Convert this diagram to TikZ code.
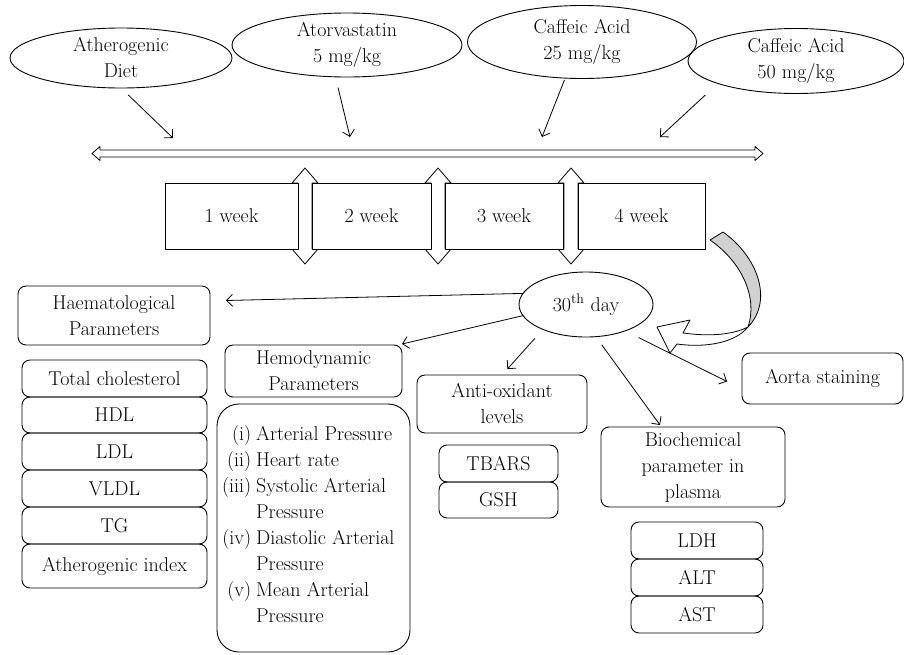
\documentclass[tikz,border=0pt]{standalone}
\usetikzlibrary{shapes.geometric,arrows.meta}

\begin{document}
\begin{tikzpicture}[x=1pt,y=-1pt,line width=0.9pt,line join=round,
  every node/.style={inner sep=0pt,outer sep=0pt,font=\fontsize{20pt}{26pt}\selectfont},
  oval/.style={draw,ellipse},
  wbox/.style={draw,fill=white},
  rbox/.style={draw,rounded corners=8pt,align=center},
  arr/.style={-{Straight Barb[length=6pt,width=12pt]},line width=0.8pt}]
  \path[use as bounding box] (0,0) rectangle (904,654);  % source canvas 904x654 px, y downwards
  % ---- treatment ellipses, top row (centre / size in source px) ----
  \node[oval,minimum width=222,minimum height=60] (diet)   at (121,58) {};
  \node[oval,minimum width=230,minimum height=64] (atorva) at (347,45) {};
  \node[oval,minimum width=229,minimum height=73] (caff25) at (582,42) {};
  \node[oval,minimum width=216,minimum height=65] (caff50) at (796,61) {};
  \node[align=center] (diet-t)   at (diet)   {Atherogenic\\Diet};
  \node[align=center] (atorva-t) at (atorva) {Atorvastatin\\5 mg/kg};
  \node[align=center] (caff25-t) at (caff25) {Caffeic Acid\\25 mg/kg};
  \node[align=center] (caff50-t) at (caff50) {Caffeic Acid\\50 mg/kg};
  % ---- arrow ends just above the time line ----
  \coordinate (t-diet)   at (173,138);
  \coordinate (t-atorva) at (350,137);
  \coordinate (t-caff25) at (542,137);
  \coordinate (t-caff50) at (660,137);
  \draw[arr,shorten <=10pt] (diet.south) -- (t-diet);
  \draw[arr,shorten <=11pt] (atorva.250) -- (t-atorva);
  \draw[arr,shorten <=2pt]  (caff25.245) -- (t-caff25);
  \draw[arr,shorten <=17pt] (caff50.196) -- (t-caff50);
  % ---- time line: open double-headed arrow, px 92..763 at y 153.5 ----
  \draw[fill=white,line width=0.8pt] (92,153.5) -- (100,146.5) -- (100,150) -- (755,150) -- (755,146.5)
    -- (763,153.5) -- (755,160.5) -- (755,157) -- (100,157) -- (100,160.5) -- cycle;
  % ---- up/down arrows between the week boxes (shaft 14, head 26 wide) ----
  \foreach \x in {305,438,571}
    \draw[fill=white,line width=0.8pt] (\x,168) -- ({\x+13},183) -- ({\x+7},183) -- ({\x+7},249)
      -- ({\x+13},249) -- (\x,264) -- ({\x-13},249) -- ({\x-7},249) -- ({\x-7},183) -- ({\x-13},183) -- cycle;
  % ---- week boxes ----
  \node[wbox,minimum width=133,minimum height=66] (w1) at (231.5,216) {1 week};
  \node[wbox,minimum width=119,minimum height=66] (w2) at (371.5,216) {2 week};
  \node[wbox,minimum width=118,minimum height=66] (w3) at (504,216)   {3 week};
  \node[wbox,minimum width=127,minimum height=66] (w4) at (641.5,216) {4 week};
  % ---- turning ribbon arrow from 4 week to 30th day: grey back, then white front with head ----
  \filldraw[fill=black!18,line width=0.8pt] (723,232) .. controls (757,256) and (774,300) .. (748,327)
    .. controls (758,298) and (742,262) .. (710,240) -- cycle;
  \filldraw[fill=white,line width=0.8pt] (748,327) .. controls (730,336) and (705,336) .. (683,333)
    -- (690,320) -- (657,327) -- (670,353) -- (677,344) .. controls (705,348) and (735,343) .. (748,327) -- cycle;
  % ---- 30th day ----
  \node[oval,minimum width=134,minimum height=65] (day) at (586,304.5) {};
  \node (day-t) at (day) {30\textsuperscript{th} day};
  % ---- outcome boxes ----
  \node[rbox,minimum width=192,minimum height=59] (haem)  at (114,315.5) {Haematological\\Parameters};
  \node[rbox,minimum width=177,minimum height=52] (hemo)  at (313.5,371) {Hemodynamic\\Parameters};
  \node[rbox,minimum width=170,minimum height=58] (anti)  at (502,404)   {Anti-oxidant\\levels};
  \node[rbox,minimum width=184,minimum height=80] (bio)   at (693,467)   {Biochemical\\parameter in\\plasma};
  \node[rbox,minimum width=161,minimum height=51] (aorta) at (822.5,378.5) {Aorta staining};
  % ---- haematological list ----
  \node[rbox,minimum width=185,minimum height=37] (tc)   at (114.5,378.5) {Total cholesterol};
  \node[rbox,minimum width=185,minimum height=36] (hdl)  at (114.5,415)   {HDL};
  \node[rbox,minimum width=185,minimum height=37] (ldl)  at (114.5,451.5) {LDL};
  \node[rbox,minimum width=185,minimum height=37] (vldl) at (114.5,488.5) {VLDL};
  \node[rbox,minimum width=185,minimum height=37] (tg)   at (114.5,525.5) {TG};
  \node[rbox,minimum width=185,minimum height=44] (ai)   at (114.5,566)   {Atherogenic index};
  % ---- hemodynamic list ----
  \node[draw,rounded corners=22pt,minimum width=193,minimum height=248] (hlist) at (313.5,528) {};
  \node[anchor=north west] (hlist-t) at (222,422) {%
    \begin{tabular}{@{}r@{\hspace{5pt}}l@{}}
      (i)   & Arterial Pressure \\
      (ii)  & Heart rate \\
      (iii) & Systolic Arterial \\
            & Pressure \\
      (iv)  & Diastolic Arterial \\
            & Pressure \\
      (v)   & Mean Arterial \\
            & Pressure
    \end{tabular}};
  % ---- anti-oxidant list ----
  \node[rbox,minimum width=119,minimum height=37] (tbars) at (498.5,463.5) {TBARS};
  \node[rbox,minimum width=119,minimum height=36] (gsh)   at (498.5,500)   {GSH};
  % ---- biochemical list ----
  \node[rbox,minimum width=132,minimum height=37] (ldh) at (697,540.5) {LDH};
  \node[rbox,minimum width=132,minimum height=37] (alt) at (697,577.5) {ALT};
  \node[rbox,minimum width=132,minimum height=37] (ast) at (697,614.5) {AST};
  % ---- arrows out of 30th day ----
  \draw[arr] (day.170) -- ([xshift=16pt,yshift=15pt]haem.east);
  \draw[arr] (day.190) -- ([yshift=1pt]hemo.north east);
  \draw[arr,shorten <=12pt,shorten >=8pt] (day.210) -- (anti.north);
  \draw[arr,shorten <=10pt] (day.287) -- ([xshift=-33pt,yshift=2pt]bio.north);
  \draw[arr,shorten <=15pt] (day.326) -- ([xshift=-15pt,yshift=-3pt]aorta.west);
\end{tikzpicture}
\end{document}
